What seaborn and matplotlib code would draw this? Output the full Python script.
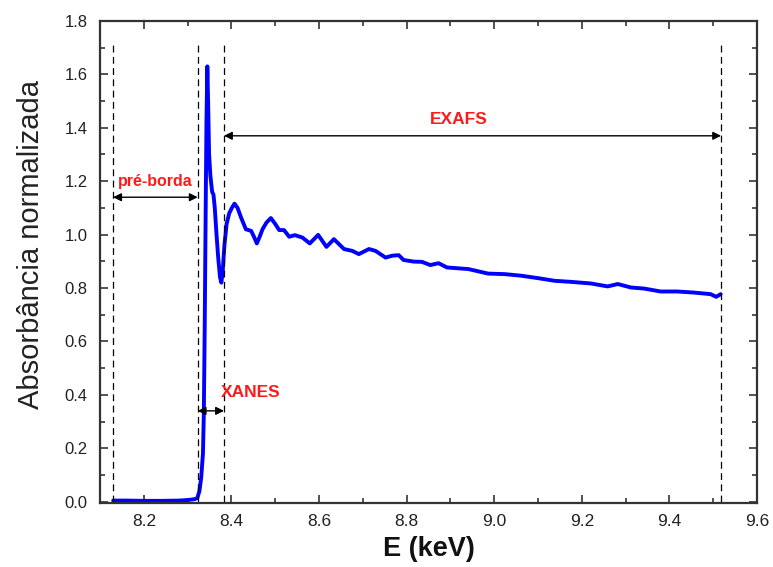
import matplotlib
matplotlib.use("Agg")
import matplotlib.pyplot as plt
from matplotlib.ticker import MultipleLocator
import seaborn as sns
import pandas as pd

energy = [8.13, 8.16, 8.20, 8.24, 8.28, 8.30, 8.315, 8.322, 8.327, 8.331,
          8.335, 8.337, 8.339, 8.341, 8.343, 8.345, 8.347, 8.349, 8.352, 8.356,
          8.359, 8.362, 8.366, 8.370, 8.374, 8.377, 8.380, 8.384, 8.389, 8.395,
          8.401, 8.407, 8.414, 8.422, 8.428, 8.433, 8.445, 8.452, 8.458, 8.464,
          8.471, 8.480, 8.490, 8.500, 8.509, 8.520, 8.532, 8.545, 8.562, 8.579,
          8.598, 8.617, 8.634, 8.657, 8.676, 8.691, 8.714, 8.729, 8.752, 8.767,
          8.782, 8.793, 8.816, 8.835, 8.854, 8.873, 8.892, 8.941, 8.986, 9.024,
          9.062, 9.100, 9.138, 9.176, 9.221, 9.259, 9.282, 9.312, 9.342, 9.380,
          9.418, 9.456, 9.494, 9.507, 9.517]
absorbance = [0.004, 0.004, 0.003, 0.003, 0.004, 0.006, 0.009, 0.013, 0.04, 0.09,
              0.18, 0.33, 0.65, 1.05, 1.42, 1.63, 1.48, 1.30, 1.22, 1.16,
              1.15, 1.10, 1.00, 0.91, 0.84, 0.82, 0.86, 0.96, 1.04, 1.08,
              1.10, 1.116, 1.10, 1.064, 1.04, 1.02, 1.014, 0.99, 0.967, 0.99,
              1.02, 1.045, 1.062, 1.04, 1.017, 1.017, 0.992, 0.998, 0.989, 0.967,
              0.999, 0.954, 0.983, 0.946, 0.939, 0.927, 0.946, 0.939, 0.914, 0.921,
              0.923, 0.905, 0.899, 0.898, 0.886, 0.893, 0.877, 0.871, 0.854, 0.852,
              0.846, 0.837, 0.827, 0.823, 0.817, 0.806, 0.815, 0.802, 0.798, 0.787,
              0.787, 0.783, 0.777, 0.767, 0.777]

boundaries = [8.13, 8.323, 8.383, 9.518]
region_labels = ["pré-borda", "XANES", "EXAFS"]
arrow_spans = [(8.13, 8.323), (8.323, 8.383), (8.383, 9.518)]
arrow_y = [1.14, 0.34, 1.37]
label_pos = [(8.226, 1.20), (8.445, 0.41), (8.92, 1.43)]
x_ticks = [8.2, 8.4, 8.6, 8.8, 9.0, 9.2, 9.4, 9.6]
y_ticks = [0.0, 0.2, 0.4, 0.6, 0.8, 1.0, 1.2, 1.4, 1.6, 1.8]

sns.set_theme(style="ticks")
plt.rcParams['font.family'] = ['Liberation Sans', 'DejaVu Sans']

df = pd.DataFrame({"E": energy, "A": absorbance})

fig = plt.figure(figsize=(7.73, 5.67), dpi=100)
ax = fig.add_axes([0.1294, 0.1129, 0.9793 - 0.1294, 0.963 - 0.1129])

sns.lineplot(data=df, x="E", y="A", ax=ax, color="#0000ff", linewidth=2.8, sort=False)

ax.vlines(boundaries, 0, 1.72, colors="black", linestyles=(0, (5.5, 3.5)), linewidth=0.9)

for (x0, x1), y in zip(arrow_spans, arrow_y):
    ax.annotate("", xy=(x0, y), xytext=(x1, y),
                arrowprops=dict(arrowstyle="<|-|>", color="black", lw=1.0,
                                mutation_scale=12, shrinkA=0, shrinkB=0))
sizes = [11.5, 12.5, 12.5]
for txt, (x, y), s in zip(region_labels, label_pos, sizes):
    ax.text(x, y, txt, color="#ff1a1a", fontweight="bold", fontsize=s,
            ha="center", va="center")

ax.set_xlim(8.1, 9.6)
ax.set_ylim(-0.005, 1.8)
ax.xaxis.set_minor_locator(MultipleLocator(0.1))
ax.yaxis.set_minor_locator(MultipleLocator(0.1))
ax.set_xticks(x_ticks)
ax.set_xticklabels([f"{v:.1f}" for v in x_ticks])
ax.set_yticks(y_ticks)
ax.set_yticklabels([f"{v:.1f}" for v in y_ticks])
ax.tick_params(which="both", direction="in", top=True, right=True, colors="#333333",
               labelcolor="#222222", width=1.2)
ax.tick_params(which="major", length=6)
ax.tick_params(which="minor", length=3.5)
ax.tick_params(axis="x", pad=8, labelsize=12.5)
ax.tick_params(axis="y", pad=9, labelsize=12)
for sp in ax.spines.values():
    sp.set_linewidth(1.6)
    sp.set_color("#333333")

ax.set_xlabel("E (keV)", fontsize=19.5, fontweight="bold", color="#111111")
ax.xaxis.set_label_coords(0.5, -0.068)
ax.set_ylabel("Absorbância normalizada", fontsize=21, color="#222222")
ax.yaxis.set_label_coords(-0.083, 0.537)

fig.savefig("out.png", dpi=100, facecolor="white")
